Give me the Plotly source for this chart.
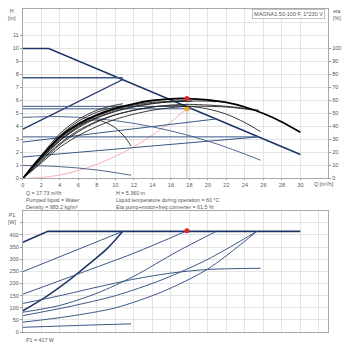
import plotly.graph_objects as go

# ---------------- data ----------------
q_ticks = list(range(0, 32, 2))
h_ticks = list(range(0, 12))
eta_ticks = list(range(0, 110, 10))
p_ticks = list(range(0, 450, 50))

# Q-H control curves (blue)
max_q = [0, 2.8, 30];        max_h = [10, 10, 1.85]
cp3_q = [0, 10.8];           cp3_h = [7.75, 7.75]
pp3_q = [0, 10.8];           pp3_h = [3.8, 7.62]
cp2_q = [0, 17.6];           cp2_h = [5.55, 5.55]
set_q = [0, 18.3];           set_h = [5.36, 5.36]
pp2_q = [0, 20.9];           pp2_h = [2.8, 4.58]
cp1_q = [0, 25.5];           cp1_h = [3.2, 3.2]
pp1_q = [0, 25.5];           pp1_h = [1.65, 3.2]
c2_q = [0, 4, 8, 12, 16, 20, 24, 25.7]
c2_h = [4.70, 4.76, 4.60, 4.24, 3.66, 2.88, 1.88, 1.40]
c1_q = [0, 4, 8, 11.7]
c1_h = [1.0, 0.91, 0.65, 0.25]

# system curve (red)
sys_q = [0, 2, 4, 6, 8, 10, 12, 14, 16, 17.73]
sys_h = [0, 0.07, 0.27, 0.61, 1.09, 1.70, 2.45, 3.34, 4.36, 5.36]

# efficiency curves (black), eta in %
emax_q = [0, 1, 2, 4, 6, 8, 10, 12, 14, 16, 17.73, 20, 22, 24, 26, 28, 30]
emax_v = [0, 9, 17, 32, 42, 49, 54, 57.5, 60, 61.3, 61.5, 60.5, 58.5, 55, 50, 43.5, 35.5]
eta_thin = [
    ([0, 2, 4, 6, 8, 10, 12, 14, 16, 18, 20, 22, 24, 25.5],
     [0, 12, 24, 33, 40, 45.5, 49.5, 52.5, 54.5, 55.5, 55.5, 55, 53.5, 52]),
    ([0, 2, 4, 6, 8, 10, 12, 14, 16, 18, 20, 22, 24, 25.5],
     [0, 14, 27, 37, 44, 49, 52.5, 55, 56.5, 57, 56.5, 55.5, 54, 52.5]),
    ([0, 2, 4, 6, 8, 10, 12, 14, 16, 18, 20, 20.9],
     [0, 15, 29, 39, 46.5, 51.5, 55, 57.5, 59, 59.5, 59.5, 59]),
    ([0, 2, 4, 6, 8, 10, 12, 14, 16, 17.6],
     [0, 16, 31, 41, 48, 53, 56.5, 58.5, 59.5, 60]),
    ([0, 2, 4, 6, 8, 10, 12, 14, 16, 18.3],
     [0, 15.5, 30, 40, 47, 52, 55.5, 57.8, 59, 59.6]),
    ([0, 2, 4, 6, 8, 10, 10.8],
     [0, 17, 33, 44, 51, 55, 56]),
    ([0, 2, 4, 6, 8, 10, 10.8],
     [0, 18, 34.5, 45.5, 52.5, 56.5, 57.5]),
    ([0, 2, 4, 6, 8, 10, 12, 14, 16, 18, 20, 22, 24, 25.7],
     [0, 13, 26, 36, 43.5, 49, 52.5, 55, 56, 55.5, 53.5, 49.5, 43, 36]),
    ([0, 2, 4, 6, 7, 8, 9, 10, 11, 11.7],
     [0, 15, 29, 40, 44, 45, 43, 39, 32, 25]),
]

# P1 power curves (blue)
pmax_q = [0, 2.7, 30];                 pmax_p = [370, 415, 415]
pcp3_q = [0, 10.8];                    pcp3_p = [249, 415]
ppp3_q = [0, 2.4, 4.9, 7.1, 9.2, 10.8]; ppp3_p = [88, 143, 211, 279, 347, 415]
pcp2_q = [0, 6, 12, 17.6];             pcp2_p = [156, 240, 325, 415]
ppp2_q = [0, 4, 8, 12, 16.6, 20.9];    ppp2_p = [82, 110, 160, 230, 330, 415]
pcp1_q = [0, 5, 10, 15, 20, 25.3];     pcp1_p = [68, 105, 150, 215, 300, 415]
ppp1_q = [0, 5, 10, 15, 20, 25.3];     ppp1_p = [41, 65, 100, 165, 260, 415]
pc2_q = [0, 4, 8, 12, 16, 20, 25.7];   pc2_p = [118, 150, 185, 218, 243, 258, 263]
pc1_q = [0, 4, 8, 11.7];               pc1_p = [20, 25, 30, 34]

op_q = 17.73
op_h = 5.36
op_eta = 61.5
op_p = 417

# ---------------- figure ----------------
NAVY = "#1d3566"
BLUE = "#3b5787"
fig = go.Figure()

def top_line(q, h, w=1.0, color=BLUE, shape="linear"):
    fig.add_trace(go.Scatter(x=q, y=h, mode="lines", xaxis="x", yaxis="y",
                             line=dict(color=color, width=w, shape=shape),
                             hoverinfo="skip", showlegend=False))

def eta_line(q, e, w=0.9, color="#111"):
    fig.add_trace(go.Scatter(x=q, y=e, mode="lines", xaxis="x", yaxis="y3",
                             line=dict(color=color, width=w, shape="spline", smoothing=0.8),
                             hoverinfo="skip", showlegend=False))

def bot_line(q, p, w=1.0, color=BLUE, shape="linear"):
    fig.add_trace(go.Scatter(x=q, y=p, mode="lines", xaxis="x2", yaxis="y2",
                             line=dict(color=color, width=w, shape=shape, smoothing=0.8),
                             hoverinfo="skip", showlegend=False))

# top chart
top_line(sys_q, sys_h, 0.8, "#f2a0a0", "spline")
top_line([op_q, op_q], [0, op_eta / 10], 0.8, "#aaaaaa")
top_line(max_q, max_h, 1.6, NAVY)
top_line(cp3_q, cp3_h, 1.6, BLUE)
top_line(pp3_q, pp3_h, 1.3, NAVY)
top_line(cp2_q, cp2_h, 1.0)
top_line(set_q, set_h, 1.0)
top_line(pp2_q, pp2_h, 1.0)
top_line(cp1_q, cp1_h, 1.0)
top_line(pp1_q, pp1_h, 1.0)
top_line(c2_q, c2_h, 0.9, BLUE, "spline")
top_line(c1_q, c1_h, 0.9, BLUE, "spline")

for q, e in eta_thin:
    eta_line(q, e, 0.9, "#222")
eta_line(emax_q, emax_v, 1.8, "#000")

fig.add_trace(go.Scatter(x=[op_q], y=[op_h], mode="markers", xaxis="x", yaxis="y",
                         marker=dict(color="#f5a623", size=5), hoverinfo="skip", showlegend=False))
fig.add_trace(go.Scatter(x=[op_q], y=[op_eta], mode="markers", xaxis="x", yaxis="y3",
                         marker=dict(color="#e8202a", size=5), hoverinfo="skip", showlegend=False))

# bottom chart
bot_line(pmax_q, pmax_p, 1.6, NAVY)
bot_line(pcp3_q, pcp3_p, 1.0)
bot_line(ppp3_q, ppp3_p, 1.5, NAVY, "spline")
bot_line(pcp2_q, pcp2_p, 1.0, BLUE, "spline")
bot_line(ppp2_q, ppp2_p, 1.0, BLUE, "spline")
bot_line(pcp1_q, pcp1_p, 1.0, BLUE, "spline")
bot_line(ppp1_q, ppp1_p, 1.0, BLUE, "spline")
bot_line(pc2_q, pc2_p, 1.0, BLUE, "spline")
bot_line(pc1_q, pc1_p, 1.0, BLUE, "spline")
fig.add_trace(go.Scatter(x=[op_q], y=[op_p], mode="markers", xaxis="x2", yaxis="y2",
                         marker=dict(color="#e8202a", size=5), hoverinfo="skip", showlegend=False))

W = H = 350
def px(x): return x / W
def py(y): return 1 - y / H

GRID = "#e4e4e4"
LINE = "#a8a8a8"
TF = dict(family="Liberation Sans, Arial, sans-serif", size=5.5, color="#555")

xdom = [px(21), px(328)]
fig.update_layout(
    width=W, height=H, margin=dict(l=0, r=0, t=0, b=0),
    paper_bgcolor="white", plot_bgcolor="white",
    font=TF,
    xaxis=dict(domain=xdom, range=[0, 33], tickvals=q_ticks, showgrid=True, gridcolor=GRID,
               zeroline=False, showline=True, linecolor=LINE, mirror=True, ticks="outside",
               ticklen=1, tickcolor="#999", tickfont=TF, anchor="y"),
    yaxis=dict(domain=[py(180), py(9)], range=[0, 13.05], tickvals=h_ticks, showgrid=True,
               gridcolor=GRID, zeroline=False, showline=True, linecolor=LINE, mirror=True,
               ticks="outside", ticklen=2, tickcolor="#999", tickfont=TF, anchor="x"),
    yaxis3=dict(overlaying="y", side="right", range=[0, 130.5], tickvals=eta_ticks,
                showgrid=False, zeroline=False, ticks="outside", ticklen=2, tickcolor="#999",
                tickfont=TF, anchor="x"),
    xaxis2=dict(domain=xdom, range=[0, 33], dtick=2, showgrid=True, gridcolor=GRID,
                zeroline=False, showline=True, linecolor=LINE, mirror=True,
                showticklabels=False, anchor="y2"),
    yaxis2=dict(domain=[py(335), py(213)], range=[0, 498], tickvals=p_ticks + [450],
                ticktext=[str(v) for v in p_ticks] + [""], showgrid=True, gridcolor=GRID,
                zeroline=False, showline=True, linecolor=LINE, mirror=True, ticks="outside",
                ticklen=2, tickcolor="#999", tickfont=TF, anchor="x2"),
)
# extra gridline at 12 m
fig.add_shape(type="line", xref="x", yref="y", x0=0, x1=33, y0=12, y1=12,
              line=dict(color=GRID, width=1), layer="below")

ann = []
def text(x, y, s, xanchor="left", size=5.3, **kw):
    ann.append(dict(x=px(x), y=py(y), xref="paper", yref="paper", text=s, showarrow=False,
                    xanchor=xanchor, yanchor="middle", font=dict(family=TF["family"], size=size,
                                                                 color="#555"), **kw))

text(16, 15, "H<br>[m]", "right")
text(331, 15, "eta<br>[%]", "left")
text(16, 220, "P1<br>[W]", "right")
text(312, 186, "Q [m³/h]", "left")
text(325, 14, "MAGNA1 50-100 F, 1*230 V", "right", 5.5, bordercolor="#999", borderwidth=0.6,
     borderpad=1.5, bgcolor="white")
text(22, 194.5, "Q = 17.73 m³/h")
text(22, 201.5, "Pumped liquid = Water")
text(22, 208.5, "Density = 983.2 kg/m³")
text(113, 194.5, "H = 5.360 m")
text(113, 201.5, "Liquid temperature during operation = 60 °C")
text(113, 208.5, "Eta pump+motor+freq converter = 61.5 %")
text(22, 343, "P1 = 417 W")
fig.update_layout(annotations=ann)

fig.write_html("out.html")
